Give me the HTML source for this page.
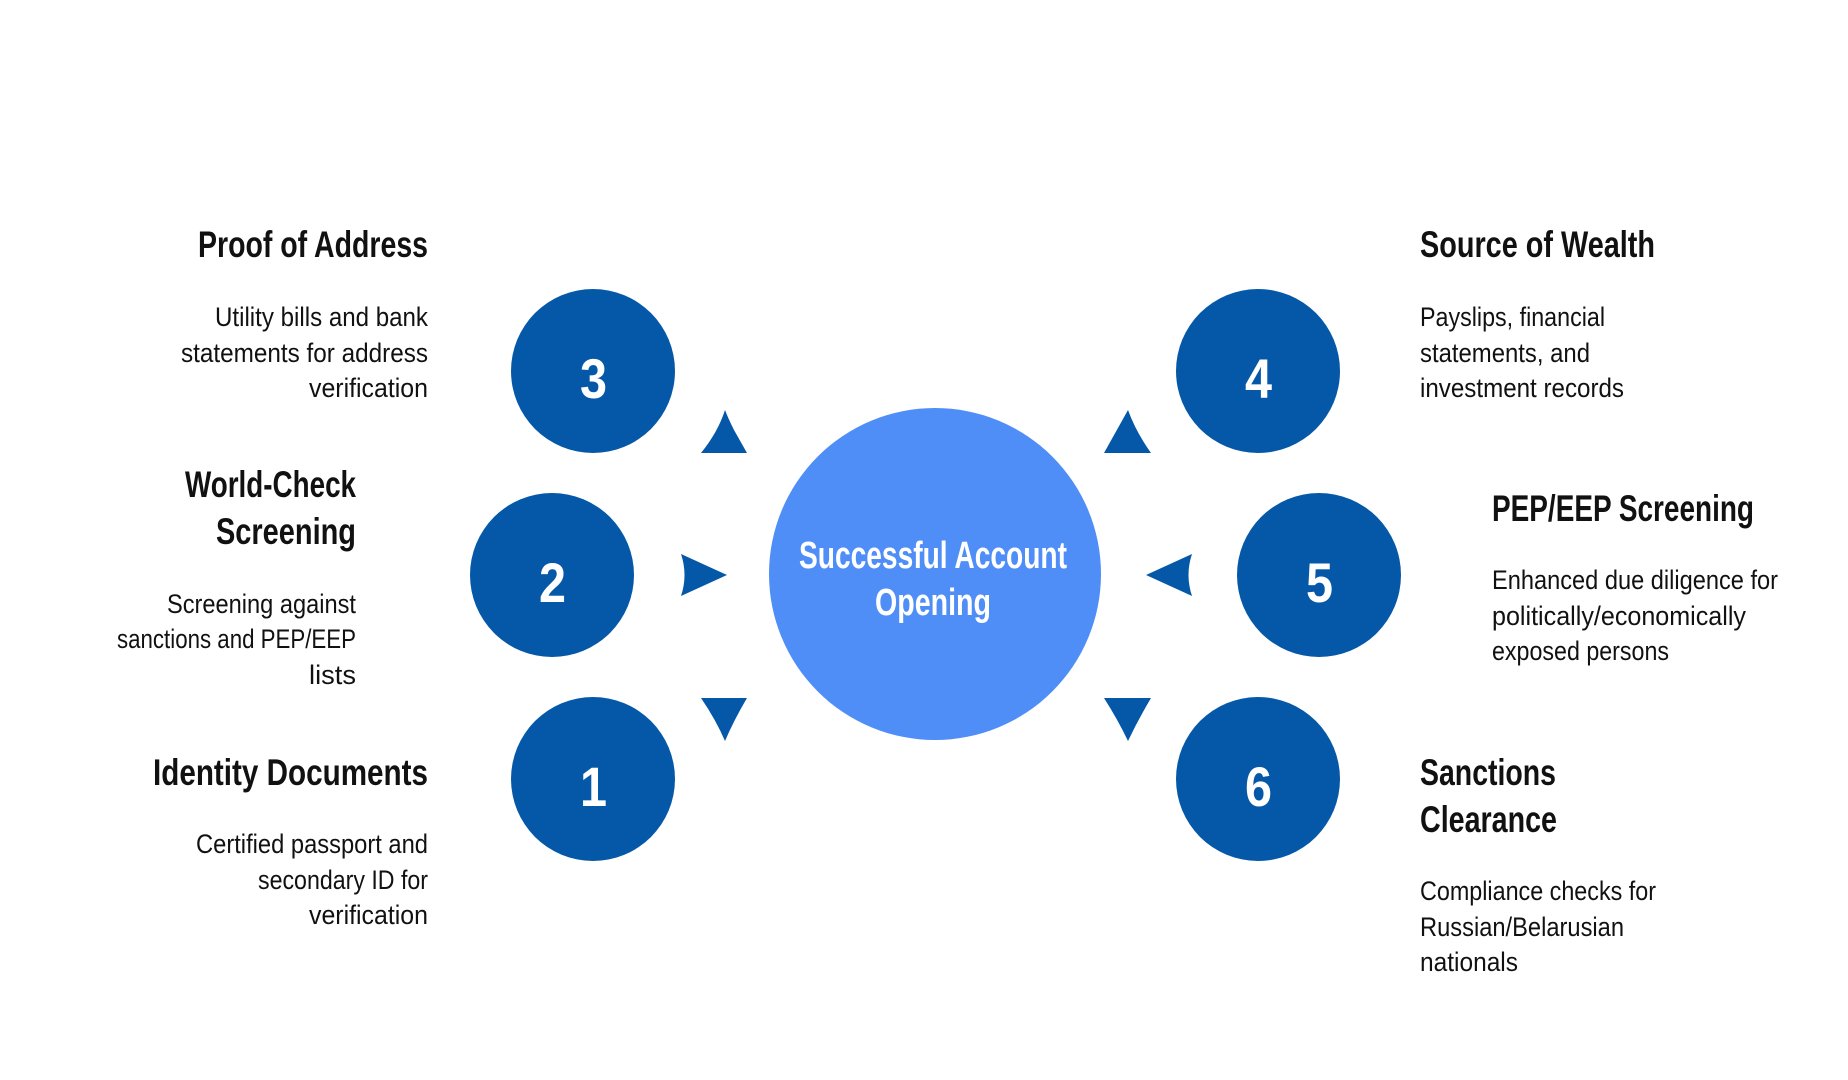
<!DOCTYPE html>
<html><head><meta charset="utf-8"><style>html,body{margin:0;padding:0;background:#fff}svg{display:block}</style></head>
<body>
<svg width="1848" height="1080" viewBox="0 0 1848 1080" xmlns="http://www.w3.org/2000/svg">
<rect width="1848" height="1080" fill="#fff"/>
<g fill="#0558A8">
<circle cx="593" cy="371" r="82"/>
<circle cx="552" cy="575" r="82"/>
<circle cx="593" cy="779" r="82"/>
<circle cx="1258" cy="371" r="82"/>
<circle cx="1319" cy="575" r="82"/>
<circle cx="1258" cy="779" r="82"/>
<path d="M701,453 L747,453 L734,430 Q728,418 725,410 Q718,432 701,453Z"/>
<path d="M1104,453 L1151,453 Q1136,432 1128,410 L1104,453Z"/>
<path d="M701,698 L747,698 Q734,720 725,741 Q716,720 701,698Z"/>
<path d="M1104,698 L1151,698 Q1138,720 1128,741 Q1118,720 1104,698Z"/>
<path d="M681,554 L727,575 L681,596 Q688,575 681,554Z"/>
<path d="M1192,554 L1146,575 L1192,596 Q1185,575 1192,554Z"/>
</g>
<circle cx="935" cy="574" r="166" fill="#4F8EF7"/>
<g font-family="Liberation Sans, sans-serif" font-weight="bold" fill="#fff" font-size="56">
<text x="580" y="398" textLength="27" lengthAdjust="spacingAndGlyphs">3</text>
<text x="539" y="602" textLength="27" lengthAdjust="spacingAndGlyphs">2</text>
<text x="580" y="806" textLength="27" lengthAdjust="spacingAndGlyphs">1</text>
<text x="1245" y="398" textLength="27" lengthAdjust="spacingAndGlyphs">4</text>
<text x="1306" y="602" textLength="27" lengthAdjust="spacingAndGlyphs">5</text>
<text x="1245" y="806" textLength="27" lengthAdjust="spacingAndGlyphs">6</text>
</g>
<g font-family="Liberation Sans, sans-serif" font-weight="bold" fill="#fff" font-size="38">
<text x="799" y="568" textLength="268" lengthAdjust="spacingAndGlyphs">Successful Account</text>
<text x="875" y="615" textLength="116" lengthAdjust="spacingAndGlyphs">Opening</text>
</g>
<g font-family="Liberation Sans, sans-serif" font-weight="bold" fill="#111" font-size="37">
<text x="198" y="257" textLength="230" lengthAdjust="spacingAndGlyphs">Proof of Address</text>
<text x="185" y="497" textLength="171" lengthAdjust="spacingAndGlyphs">World-Check</text>
<text x="216" y="544" textLength="140" lengthAdjust="spacingAndGlyphs">Screening</text>
<text x="153" y="785" textLength="275" lengthAdjust="spacingAndGlyphs">Identity Documents</text>
<text x="1420" y="257" textLength="235" lengthAdjust="spacingAndGlyphs">Source of Wealth</text>
<text x="1492" y="521" textLength="262" lengthAdjust="spacingAndGlyphs">PEP/EEP Screening</text>
<text x="1420" y="785" textLength="136" lengthAdjust="spacingAndGlyphs">Sanctions</text>
<text x="1420" y="832" textLength="137" lengthAdjust="spacingAndGlyphs">Clearance</text>
</g>
<g font-family="Liberation Sans, sans-serif" fill="#111" font-size="27">
<text x="215" y="326" textLength="213" lengthAdjust="spacingAndGlyphs">Utility bills and bank</text>
<text x="181" y="362" textLength="247" lengthAdjust="spacingAndGlyphs">statements for address</text>
<text x="309" y="397" textLength="119" lengthAdjust="spacingAndGlyphs">verification</text>
<text x="167" y="613" textLength="189" lengthAdjust="spacingAndGlyphs">Screening against</text>
<text x="117" y="648" textLength="239" lengthAdjust="spacingAndGlyphs">sanctions and PEP/EEP</text>
<text x="309" y="684" textLength="47" lengthAdjust="spacingAndGlyphs">lists</text>
<text x="196" y="853" textLength="232" lengthAdjust="spacingAndGlyphs">Certified passport and</text>
<text x="258" y="889" textLength="170" lengthAdjust="spacingAndGlyphs">secondary ID for</text>
<text x="309" y="924" textLength="119" lengthAdjust="spacingAndGlyphs">verification</text>
<text x="1420" y="326" textLength="185" lengthAdjust="spacingAndGlyphs">Payslips, financial</text>
<text x="1420" y="362" textLength="170" lengthAdjust="spacingAndGlyphs">statements, and</text>
<text x="1420" y="397" textLength="204" lengthAdjust="spacingAndGlyphs">investment records</text>
<text x="1492" y="589" textLength="286" lengthAdjust="spacingAndGlyphs">Enhanced due diligence for</text>
<text x="1492" y="625" textLength="254" lengthAdjust="spacingAndGlyphs">politically/economically</text>
<text x="1492" y="660" textLength="177" lengthAdjust="spacingAndGlyphs">exposed persons</text>
<text x="1420" y="900" textLength="236" lengthAdjust="spacingAndGlyphs">Compliance checks for</text>
<text x="1420" y="936" textLength="204" lengthAdjust="spacingAndGlyphs">Russian/Belarusian</text>
<text x="1420" y="971" textLength="98" lengthAdjust="spacingAndGlyphs">nationals</text>
</g>
</svg>
</body></html>
